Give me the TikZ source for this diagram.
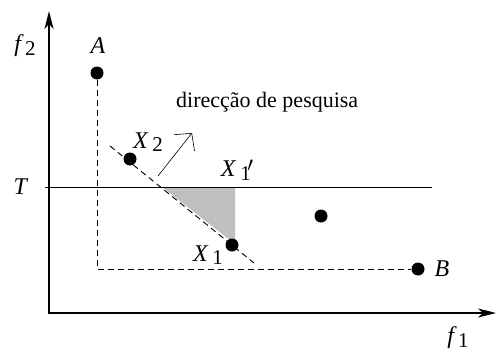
\documentclass[tikz,border=0pt]{standalone}
\usepackage{fontspec}
\setmainfont{Liberation Serif}
\usetikzlibrary{arrows.meta}
\newcommand{\subsz}{\fontsize{21}{21}\selectfont}
\newcommand{\lbl}[3][\,]{\textit{#2}#1\raisebox{-0.3ex}{\subsz #3}}
\tikzset{
  dot/.style={circle,fill=black,inner sep=0pt,minimum size=13pt},
  lab/.style={font=\fontsize{24}{26}\selectfont,inner sep=0pt},
  axis/.style={line width=1.6pt,-{Stealth[length=18pt,width=9pt,inset=5pt]}},
  dsh/.style={line width=0.9pt,dash pattern=on 6pt off 4pt},
}
\begin{document}
\begin{tikzpicture}[x=1pt,y=-1pt]
\useasboundingbox (0,0) rectangle (496,351);
% axes
\coordinate (ytop) at (49,11);
\coordinate (xend) at (496,313);
\draw[axis] (49,314) -- (ytop);
\draw[axis] (48,313) -- (xend);
\node[lab] (f2) at (25,46) {\lbl[\kern1.5pt]{f}{2}};
\node[lab] (f1) at (458,338) {\lbl[\kern1.5pt]{f}{1}};
% T line
\node[lab] (T) at (21,187) {\textit{T}};
\coordinate (tL) at (45,187);
\coordinate (tR) at (432,187);
% gray triangle
\coordinate (g1) at (162,187);
\coordinate (g2) at (235,187);
\coordinate (g3) at (235,244);
\fill[black!25] (g1) -- (g2) -- (g3) -- cycle;
\draw[line width=0.9pt] (tL) -- (tR);
% dots
\node[dot] (A) at (97,73) {};
\node[dot] (B) at (418,269) {};
\node[dot] (X2) at (130,159) {};
\node[dot] (X1) at (232,245) {};
\node[dot] (P) at (321,216) {};
\coordinate (corner) at (97,269);
\draw[dsh] (A) -- (corner) -- (B);
% diagonal
\coordinate (d1) at (110,146);
\coordinate (d2) at (254,263);
\draw[dsh] (d1) -- (d2);
% direction arrow
\coordinate (a1) at (158,176);
\coordinate (a2) at (192,133);
\draw[line width=0.6pt,-{Straight Barb[length=12pt,width=26pt,line width=0.6pt]}] (a1) -- (a2);
% labels
\node[lab] (Al) at (98,46) {\textit{A}};
\node[lab] (Bl) at (442,269) {\textit{B}};
\node[lab] (X2l) at (148,142) {\lbl{X}{2}};
\node[lab] (X1l) at (208,255) {\lbl{X}{1}};
\node[lab] (X1p) at (237,170) {\textit{X}\,\raisebox{-0.3ex}{\subsz 1\kern-3.5pt\raisebox{0.9ex}{$\prime$}}};
\node[lab,anchor=west,font=\fontsize{22}{24}\selectfont] (dir) at (176,102) {direcção de pesquisa};
\end{tikzpicture}
\end{document}
